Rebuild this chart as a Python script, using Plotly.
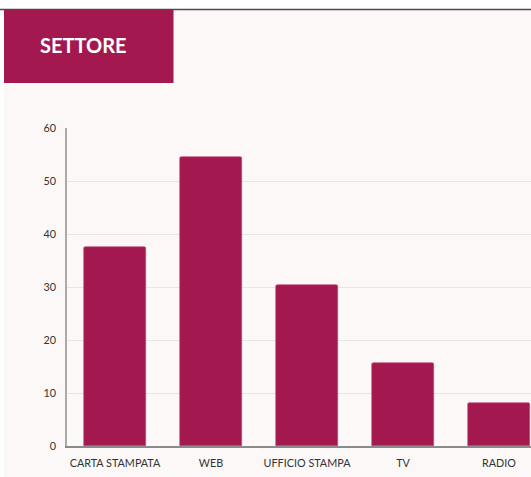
import plotly.graph_objects as go

categories = ["CARTA STAMPATA", "WEB", "UFFICIO STAMPA", "TV", "RADIO"]
values = [37.5, 54.5, 30.4, 15.7, 8.1]
y_ticks = [0, 10, 20, 30, 40, 50, 60]
title_text = "SETTORE"

W, H = 531, 477
L, R, T, B = 67, 0, 128, 31
pw, ph = W - L - R, H - T - B

def px(x):
    return (x - L) / pw

def py(y):
    return (H - B - y) / ph

BAR = "#A3194F"
BG = "#FCF8F7"

fig = go.Figure(go.Bar(
    x=list(range(len(categories))), y=values,
    marker=dict(color=BAR, line=dict(color="#C04A78", width=0.6), cornerradius=2),
    width=62 / 96,
    hoverinfo="skip",
))

shapes = [
    dict(type="rect", xref="paper", yref="paper", x0=px(4), x1=px(W + 2), y0=py(10), y1=py(H + 2),
         fillcolor=BG, line=dict(width=0), layer="below"),
    dict(type="line", xref="paper", yref="paper", x0=px(0), x1=px(W), y0=py(9.5), y1=py(9.5),
         line=dict(color="#4a4a4a", width=1.5)),
    dict(type="rect", xref="paper", yref="paper", x0=px(4), x1=px(173.5), y0=py(10), y1=py(83),
         fillcolor=BAR, line=dict(width=0)),
]

fig.update_layout(
    width=W, height=H,
    margin=dict(l=L, r=R, t=T, b=B, pad=0),
    paper_bgcolor="white",
    plot_bgcolor="rgba(0,0,0,0)",
    font=dict(family="Lato", color="#333333", size=10.8),
    showlegend=False,
    bargap=0,
    shapes=shapes,
    annotations=[dict(text="<b>" + title_text + "</b>", xref="paper", yref="paper",
                      x=px(37.5), y=py(45.5), xanchor="left", yanchor="middle",
                      showarrow=False, font=dict(family="Lato", size=20, color="white"))],
    xaxis=dict(
        range=[-0.5, -0.5 + pw / 96], tickmode="array",
        tickvals=list(range(len(categories))), ticktext=categories,
        showgrid=False, zeroline=False, showline=True, linecolor="#8a8a8a", linewidth=1.5,
        ticks="outside", ticklen=6.5, tickcolor="rgba(0,0,0,0)", fixedrange=True,
    ),
    yaxis=dict(
        range=[0, 60], tickmode="array", tickvals=y_ticks,
        showgrid=True, gridcolor="#E9E5E4", gridwidth=1,
        zeroline=False, showline=True, linecolor="#aaaaaa", linewidth=1.5,
        ticks="outside", ticklen=7, tickcolor="rgba(0,0,0,0)", fixedrange=True,
    ),
)

fig.write_html("out.html", config={"displayModeBar": False},
               post_script="document.body.style.margin='0';document.body.style.overflow='hidden';")
